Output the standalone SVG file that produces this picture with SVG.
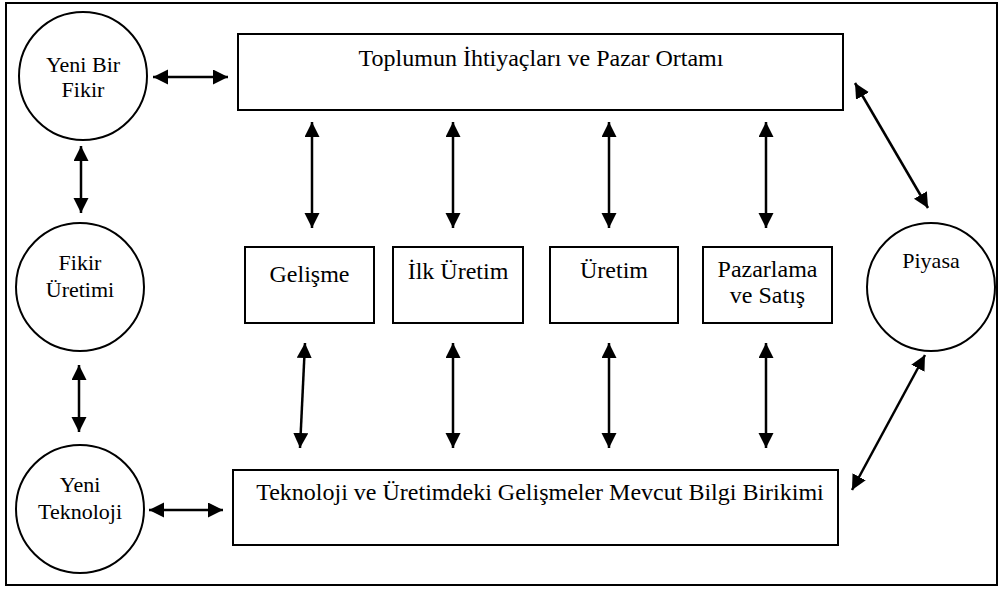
<svg xmlns="http://www.w3.org/2000/svg" width="1000" height="590" viewBox="0 0 1000 590">
<style>
.shape{fill:#fff;stroke:#000;stroke-width:2}
.ar{stroke:#000;stroke-width:2.5;fill:none;marker-start:url(#ah);marker-end:url(#ah)}
</style>
<defs>
<marker id="ah" markerUnits="userSpaceOnUse" markerWidth="16" markerHeight="16" refX="15" refY="7.5" orient="auto-start-reverse" viewBox="0 0 16 16">
<path d="M0,0 L15,7.5 L0,15 z" fill="#000"/>
</marker>
</defs>
<rect x="0" y="0" width="1000" height="590" fill="#fff"/>
<rect id="frame" x="6" y="3" width="991" height="582" fill="none" stroke="#000" stroke-width="2"/>

<g font-family="'Liberation Serif', 'Times New Roman', serif" fill="#000" text-anchor="middle">
<g id="yeni-bir-fikir" font-size="22">
<circle class="shape" cx="83" cy="76" r="64"/>
<text x="83" y="72">Yeni Bir</text>
<text x="83" y="97">Fikir</text>
</g>
<g id="fikir-uretimi" font-size="22">
<circle class="shape" cx="80" cy="287" r="64"/>
<text x="80" y="270">Fikir</text>
<text x="80" y="297">Üretimi</text>
</g>
<g id="yeni-teknoloji" font-size="22">
<circle class="shape" cx="80" cy="509" r="64"/>
<text x="80" y="492">Yeni</text>
<text x="80" y="519">Teknoloji</text>
</g>
<g id="piyasa" font-size="22">
<circle class="shape" cx="931" cy="287" r="64"/>
<text x="931" y="268">Piyasa</text>
</g>
<g id="toplum" font-size="24">
<rect class="shape" x="238" y="34" width="605" height="76"/>
<text x="541" y="66">Toplumun İhtiyaçları ve Pazar Ortamı</text>
</g>
<g id="teknoloji" font-size="24">
<rect class="shape" x="233" y="470" width="605" height="75"/>
<text x="540" y="500">Teknoloji ve Üretimdeki Gelişmeler Mevcut Bilgi Birikimi</text>
</g>
<g id="gelisme" font-size="24">
<rect class="shape" x="245" y="247" width="129" height="76"/>
<text x="309.5" y="282">Gelişme</text>
</g>
<g id="ilk-uretim" font-size="24">
<rect class="shape" x="393" y="247" width="130" height="76"/>
<text x="458" y="279">İlk Üretim</text>
</g>
<g id="uretim" font-size="24">
<rect class="shape" x="550" y="247" width="128" height="76"/>
<text x="614" y="278">Üretim</text>
</g>
<g id="pazarlama" font-size="24">
<rect class="shape" x="703" y="247" width="129" height="76"/>
<text x="767.5" y="277">Pazarlama</text>
<text x="767.5" y="303">ve Satış</text>
</g>
</g>

<g id="connectors">
<line class="ar" x1="153" y1="77" x2="228" y2="77"/>
<line class="ar" x1="81" y1="146" x2="81" y2="213"/>
<line class="ar" x1="79" y1="365" x2="79" y2="432"/>
<line class="ar" x1="149" y1="510" x2="223" y2="510"/>
<line class="ar" x1="312" y1="122" x2="312" y2="228"/>
<line class="ar" x1="453" y1="122" x2="453" y2="228"/>
<line class="ar" x1="609" y1="122" x2="609" y2="228"/>
<line class="ar" x1="766" y1="122" x2="766" y2="228"/>
<line class="ar" x1="305" y1="343" x2="300" y2="448"/>
<line class="ar" x1="453" y1="343" x2="453" y2="448"/>
<line class="ar" x1="609" y1="343" x2="609" y2="448"/>
<line class="ar" x1="766" y1="343" x2="766" y2="448"/>
<line class="ar" x1="855" y1="83" x2="928" y2="208"/>
<line class="ar" x1="925" y1="355" x2="852" y2="490"/>
</g>
</svg>
